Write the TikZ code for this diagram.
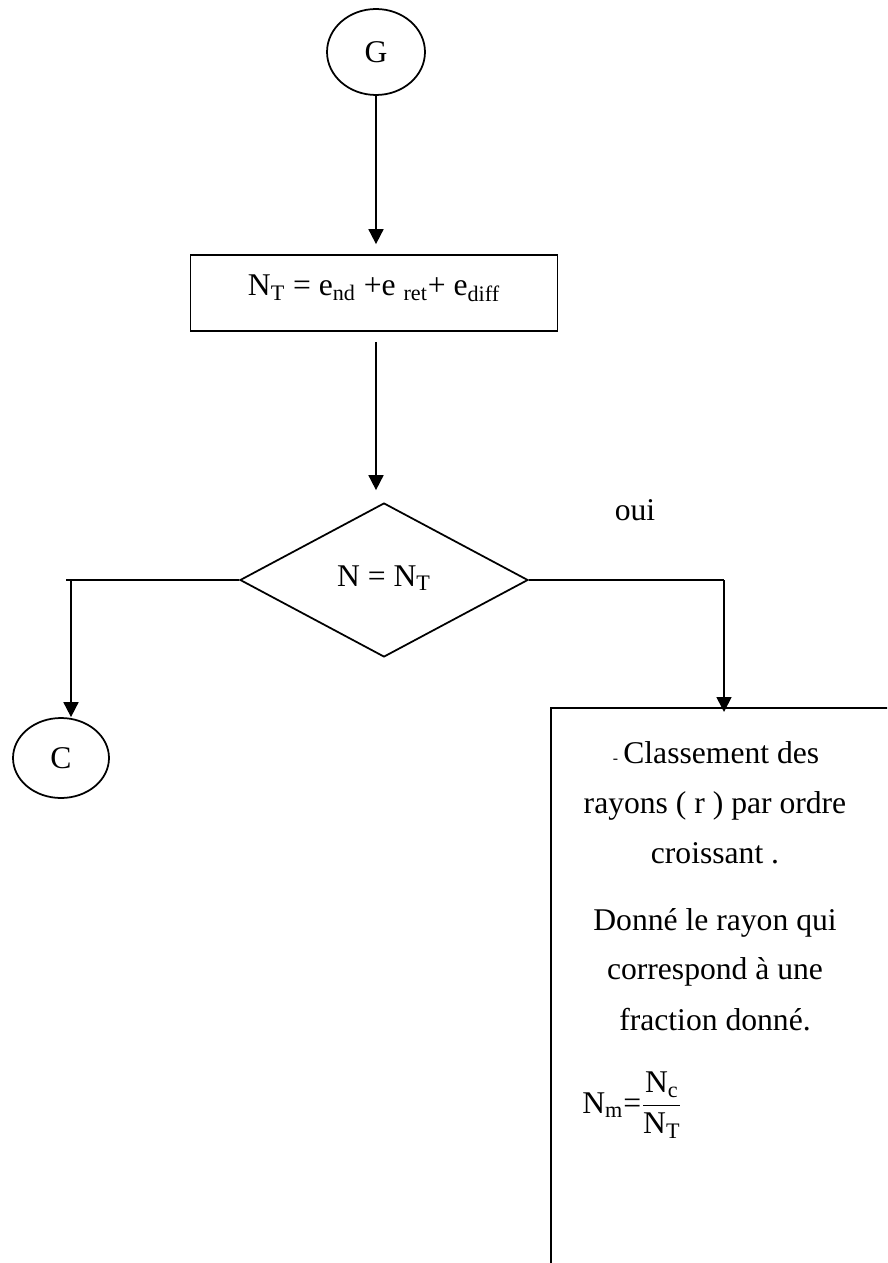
\documentclass[tikz,border=0pt]{standalone}
\usepackage{fontspec}
\setmainfont{Liberation Serif}
\usepackage{tikz}
\usetikzlibrary{arrows.meta, shapes.geometric, positioning, calc}

\tikzset{
  flowline/.style={line width=1pt, black},
  flowarrow/.style={flowline, -{Triangle[length=0.3cm, width=0.3cm]}},
  termnode/.style={draw, ellipse, line width=1pt, inner sep=0pt},
  boxtext/.style={inner sep=0pt, anchor=base}
}

\begin{document}
\begin{tikzpicture}[x=0.02cm, y=-0.02cm, every node/.style={font=\rmfamily\fontsize{18}{21}\selectfont}]
  \useasboundingbox (0,0) rectangle (887,1263);
  \clip (0,0) rectangle (887,1263);
  \fill[white] (0,0) rectangle (887,1263);

  % terminals, process and test
  \node[termnode, minimum width=1.96cm, minimum height=1.72cm] (G) at (376,52) {G};
  \node[draw, line width=1pt, minimum width=7.34cm, minimum height=1.52cm, inner sep=0pt] (calc) at (374,293) {};
  \node[boxtext] (calctext) at (374,296)
    {N\textsubscript{T} = e\textsubscript{nd} +e \textsubscript{ret}+ e\textsubscript{diff}};
  \node[draw, diamond, line width=1pt, minimum width=5.76cm, minimum height=3.08cm, aspect=1.87, inner sep=0pt] (test) at (384,580) {};
  \node[boxtext] (testtext) at (384,586) {N = N\textsubscript{T}};
  \node[termnode, minimum width=1.92cm, minimum height=1.6cm] (C) at (61,758) {C};
  \node[draw, line width=1pt, anchor=north west, minimum width=6.9cm, minimum height=11.4cm] (res) at (550,707) {};
  \node[boxtext] (oui) at (635,520) {oui};

  % texts of the result box
  \node[boxtext] (t1) at (716,763) {{\fontsize{9}{9}\selectfont -}\,Classement des};
  \node[boxtext] (t2) at (715,813) {rayons ( r ) par ordre};
  \node[boxtext] (t3) at (715,863) {croissant .};
  \node[boxtext] (t4) at (715,930) {Donné le rayon qui};
  \node[boxtext] (t5) at (715,979) {correspond à une};
  \node[boxtext] (t6) at (715,1030) {fraction donné.};
  \node[boxtext, anchor=base west] (nm) at (582,1113)
    {N\textsubscript{m}=$\displaystyle\frac{\hbox{N\textsubscript{c}}}{\hbox{N\textsubscript{T}}}$};

  \coordinate (lend) at (66,580);
  \coordinate (lcorner) at (71,580);
  \coordinate (rcorner) at (724,580);

  \draw[flowarrow, shorten >=0.2cm] (G.south) -- (G.south |- calc.north);
  \draw[flowarrow, shorten <=0.2cm, shorten >=0.24cm] (G.south |- calc.south) -- (G.south |- test.north);
  \draw[flowline] (test.west) -- (lend);
  \draw[flowarrow] (lcorner) -- (lcorner |- C.north);
  \draw[flowline] (test.east) -- (rcorner);
  \draw[flowarrow] (rcorner) -- ($(rcorner |- res.north)+(0,5)$);
\end{tikzpicture}
\end{document}
